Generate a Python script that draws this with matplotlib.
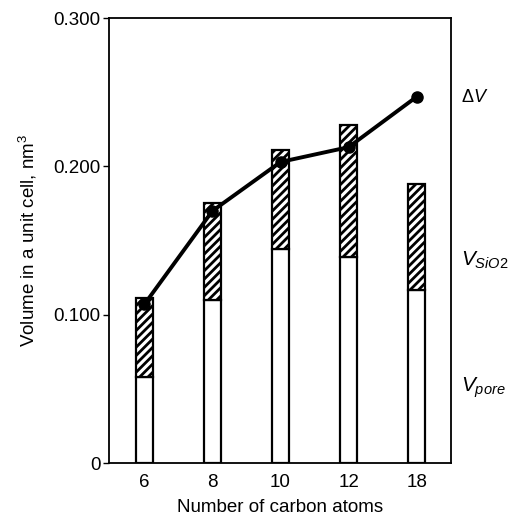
import numpy as np
import matplotlib
matplotlib.use("Agg")
import matplotlib.pyplot as plt

plt.rcParams['font.family'] = ['Liberation Sans', 'DejaVu Sans']
plt.rcParams['mathtext.fontset'] = 'custom'
plt.rcParams['mathtext.it'] = 'Liberation Sans:italic'
plt.rcParams['mathtext.rm'] = 'Liberation Sans'
plt.rcParams['hatch.linewidth'] = 2.0

carbons = ['6', '8', '10', '12', '18']
v_pore = [0.058, 0.110, 0.144, 0.139, 0.117]
v_total = [0.111, 0.175, 0.211, 0.228, 0.188]
delta_v = [0.107, 0.170, 0.203, 0.213, 0.247]

v_sio2 = [t - p for t, p in zip(v_total, v_pore)]
x = np.arange(len(carbons))

fig = plt.figure(figsize=(5.14, 5.17), dpi=100)
ax = fig.add_axes([0.212, 0.1044, 0.665, 0.8606])

ax.bar(x, v_pore, width=0.25, color='white', edgecolor='black', linewidth=1.6)
ax.bar(x, v_sio2, width=0.25, bottom=v_pore, color='white', edgecolor='black',
       hatch='////', linewidth=1.6)
ax.plot(x, delta_v, color='black', lw=2.8, marker='o', ms=8, zorder=5)

ax.set_xlim(-0.52, 4.5)
ax.set_ylim(0, 0.3)
ax.set_yticks([0, 0.1, 0.2, 0.3])
ax.set_yticklabels(['0', '0.100', '0.200', '0.300'])
ax.set_xticks(x)
ax.set_xticklabels(carbons)
ax.tick_params(axis='x', length=0, pad=8, labelsize=13.5)
ax.tick_params(axis='y', length=4, width=1, pad=2, labelsize=13.5)
for s in ax.spines.values():
    s.set_linewidth(1.3)

ax.set_xlabel('Number of carbon atoms', fontsize=13.5, labelpad=6)
ax.set_ylabel('Volume in a unit cell, nm$^3$', fontsize=13.5, labelpad=10)

ax.text(1.03, 0.822, r'$\Delta V$', transform=ax.transAxes, fontsize=13,
        va='center', ha='left')
ax.text(1.03, 0.455, r'$V_{SiO2}$', transform=ax.transAxes, fontsize=15,
        va='center', ha='left')
ax.text(1.03, 0.17, r'$V_{pore}$', transform=ax.transAxes, fontsize=15,
        va='center', ha='left')

fig.savefig('out.png', dpi=100)
